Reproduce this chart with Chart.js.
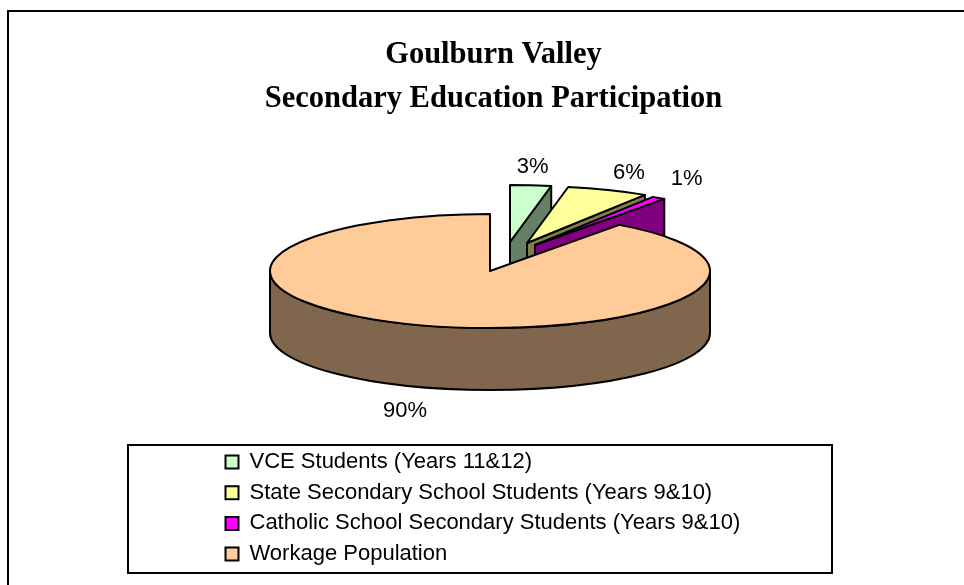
<!DOCTYPE html>
<html>
<head>
<meta charset="utf-8">
<style>
  html, body { margin: 0; padding: 0; background: #fff; overflow: hidden; }
  canvas { display: block; }
</style>
<script src="https://cdn.jsdelivr.net/npm/chart.js@4"></script>
</head>
<body>
<canvas id="chart" width="964" height="585"></canvas>
<script>
const titleLines = ["Goulburn Valley", "Secondary Education Participation"];
const categories = [
    "VCE Students (Years 11&12)",
    "State Secondary School Students (Years 9&10)",
    "Catholic School Secondary Students (Years 9&10)",
    "Workage Population"
];
const shares = [3, 6, 1, 90];
const sliceColors = ["#CCFFCC", "#FFFF99", "#FF00FF", "#FFCC99"];
const wallColors = ["#668066", "#80804D", "#800080", "#80664D"];

// look of the tilted pie, in pixels
const tilt = 57 / 220;
const depth = 62;
const explode = [[20, -29], [37, -28], [45, -26], [0, 0]];
const labelNudge = [[2, -18], [21, -17], [28, -19], [-17, 24]];

// pie controller that draws the library's arcs as a tilted disc with walls
class Pie3DController extends Chart.PieController {
    draw() {
        const ctx = this.chart.ctx;
        this._cachedMeta.data.forEach((arc, i) => {
            const x = arc.x + explode[i][0];
            const y = arc.y + explode[i][1];
            const r = arc.outerRadius;
            const ry = r * tilt;
            const a1 = arc.startAngle;
            const a2 = arc.endAngle;

            ctx.save();
            ctx.lineWidth = 2;
            ctx.lineJoin = "round";
            ctx.strokeStyle = "#000";
            ctx.fillStyle = wallColors[i];

            // cut faces, only when they turn towards the viewer
            if (Math.cos(a2) > 0.001) face(ctx, x, y, r, ry, a2);
            if (-Math.cos(a1) > 0.001) face(ctx, x, y, r, ry, a1);

            // front part of the rim
            const from = Math.max(a1, 0);
            const to = Math.min(a2, Math.PI);
            if (to > from) {
                ctx.beginPath();
                ctx.ellipse(x, y, r, ry, 0, from, to);
                ctx.ellipse(x, y + depth, r, ry, 0, to, from, true);
                ctx.closePath();
                ctx.fill();
                ctx.stroke();
            }

            // top of the slice
            ctx.fillStyle = sliceColors[i];
            ctx.beginPath();
            ctx.moveTo(x, y);
            ctx.ellipse(x, y, r, ry, 0, a1, a2);
            ctx.closePath();
            ctx.fill();
            ctx.stroke();
            ctx.restore();
        });
    }
}
Pie3DController.id = "pie3d";
Chart.register(Pie3DController);

function face(ctx, x, y, r, ry, a) {
    const ex = x + Math.cos(a) * r;
    const ey = y + Math.sin(a) * ry;
    ctx.beginPath();
    ctx.moveTo(x, y);
    ctx.lineTo(ex, ey);
    ctx.lineTo(ex, ey + depth);
    ctx.lineTo(x, y + depth);
    ctx.closePath();
    ctx.fill();
    ctx.stroke();
}

// title and legend keep their library drawing, only their place is moved
const placeBoxes = {
    id: "placeBoxes",
    afterLayout(chart) {
        const t = chart.titleBlock;
        t.left = 23;
        t.right = 964;
        t.top = 33;
        t.bottom = t.top + t.height;

        const l = chart.legend;
        l.left = 216.8;
        l.top = 442.3;
        l.right = l.left + 620;
        l.bottom = l.top + l.height;
    }
};

const frames = {
    id: "frames",
    beforeDraw(chart) {
        const ctx = chart.ctx;
        ctx.save();
        ctx.strokeStyle = "#000";
        ctx.lineWidth = 2;
        ctx.strokeRect(8, 11, 1000, 700);
        ctx.strokeRect(128, 445, 704, 128);
        ctx.restore();
    }
};

const percentLabels = {
    id: "percentLabels",
    afterDatasetsDraw(chart) {
        const ctx = chart.ctx;
        const total = shares.reduce((a, b) => a + b, 0);
        ctx.save();
        ctx.font = "22px 'Liberation Sans'";
        ctx.fillStyle = "#000";
        ctx.textAlign = "center";
        ctx.textBaseline = "middle";
        chart.getDatasetMeta(0).data.forEach((arc, i) => {
            const mid = (arc.startAngle + arc.endAngle) / 2;
            const front = Math.sin(mid) > 0 ? depth : 0;
            const x = arc.x + explode[i][0] + Math.cos(mid) * arc.outerRadius + labelNudge[i][0];
            const y = arc.y + explode[i][1] + Math.sin(mid) * arc.outerRadius * tilt + front + labelNudge[i][1];
            ctx.fillText(Math.round(shares[i] / total * 100) + "%", x, y);
        });
        ctx.restore();
    }
};

new Chart(document.getElementById("chart"), {
    type: "pie3d",
    data: {
        labels: categories,
        datasets: [{
            data: shares,
            backgroundColor: sliceColors,
            borderColor: "#000",
            borderWidth: 2,
            radius: 220
        }]
    },
    options: {
        responsive: false,
        animation: false,
        events: [],
        layout: { padding: { left: 100, right: 84, top: 0, bottom: 131 } },
        plugins: {
            tooltip: { enabled: false },
            title: {
                display: true,
                text: titleLines,
                color: "#000",
                padding: 0,
                font: { family: "'Liberation Serif'", size: 30.5, weight: "bold", lineHeight: 44 / 30.5 }
            },
            legend: {
                position: "chartArea",
                align: "start",
                labels: {
                    color: "#000",
                    boxWidth: 13,
                    boxHeight: 13,
                    padding: 8.7,
                    font: { family: "'Liberation Sans'", size: 22 }
                }
            }
        }
    },
    plugins: [placeBoxes, frames, percentLabels]
});
</script>
</body>
</html>
